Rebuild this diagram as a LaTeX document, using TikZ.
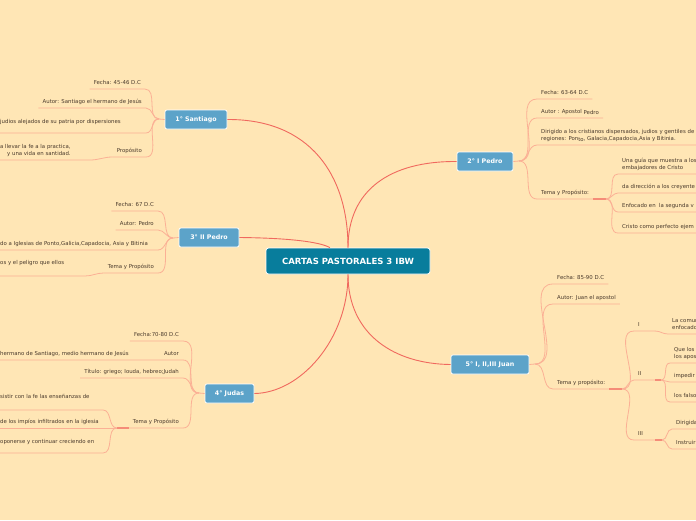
\documentclass[tikz,border=0pt]{standalone}
\usepackage{fontspec}
\setmainfont{DejaVu Sans}
\usetikzlibrary{calc}
\definecolor{bg}{HTML}{FFE6B5}
\definecolor{central}{HTML}{087D9C}
\definecolor{subblue}{HTML}{5CA3C9}
\definecolor{mainline}{HTML}{F0695E}
\definecolor{leafline}{HTML}{FBB095}
\definecolor{hubline}{HTML}{F58C78}
\definecolor{txt}{HTML}{4A3A2C}
\tikzset{
 rootbox/.style={draw=white, line width=0.8pt, fill=central, rounded corners=2.5pt, text=white, font=\bfseries\fontsize{8.5}{10}\selectfont, minimum width=164pt, minimum height=26pt, inner sep=0pt},
 topicbox/.style={draw=white, line width=0.7pt, fill=subblue, rounded corners=2pt, text=white, font=\bfseries\fontsize{6.3}{7.5}\selectfont, minimum height=19pt, inner sep=0pt},
 leaf/.style={font=\fontsize{5.4}{7}\selectfont, text=txt, inner xsep=4pt, inner ysep=3pt, text depth=1pt},
 lleaf/.style={leaf, anchor=south east, align=right},
 lclip/.style={leaf, anchor=south west, align=left},
 rleaf/.style={leaf, anchor=south west, align=left},
 mainconn/.style={draw=mainline, line width=0.9pt},
 leafconn/.style={draw=leafline, line width=0.8pt},
 hubconn/.style={draw=hubline, line width=1.4pt},
}
\begin{document}
\begin{tikzpicture}[x=1pt,y=-1pt]
\useasboundingbox (0,0) rectangle (696,520);
\fill[bg] (0,0) rectangle (696,520);
\coordinate (edge) at (700,0);

% root and topics
\node[rootbox] (c) at (348,261) {CARTAS PASTORALES 3 IBW};
\node[topicbox, minimum width=62pt] (s) at (196,119.5) {1° Santiago};
\node[topicbox, minimum width=60pt] (p3) at (209,237.5) {3° II Pedro};
\node[topicbox, minimum width=49pt] (j) at (229.5,393.5) {4° Judas};
\node[topicbox, minimum width=56pt] (p1) at (485,161.5) {2° I Pedro};
\node[topicbox, minimum width=78pt] (jn) at (490,364.5) {5° I, II,III Juan};

% main connectors
\draw[mainconn] (c.north) .. controls (348,175) and (310,119) .. (s.east);
\draw[mainconn] (c.north) .. controls (348,190) and (390,161) .. (p1.west);
\draw[mainconn] (p3.east) .. controls (290,238) and (320,242) .. ($(c.north west)!0.39!(c.north east)$);
\draw[mainconn] (c.south) .. controls (348,340) and (300,393) .. (j.east);
\draw[mainconn] (c.south) .. controls (348,335) and (395,364) .. (jn.west);

% ---- 1 Santiago
\coordinate (sh) at (159,119);
\node[lleaf] (s1) at (145,89) {Fecha: 45-46 D.C};
\node[lleaf] (s2) at (146,108) {Autor: Santiago el hermano de Jesús};
\node[lclip, inner ysep=8pt] (s3) at (-4,133) {judios alejados de su patria por dispersiones};
\coordinate (s3e) at (146,133);
\node[lleaf] (s4) at (146,157) {Propósito};
\node[lclip] (s4a) at (-4,160) {a llevar la fe a la practica,\\\hspace*{7pt}y una vida en santidad.};
\coordinate (s4ae) at (90,160);
\draw[leafconn] (s.west) -- (sh);
\draw[leafconn] (sh) to[out=180,in=0] (s1.south east) -- (s1.south west);
\draw[leafconn] (sh) to[out=180,in=0] (s2.south east) -- (s2.south west);
\draw[leafconn] (sh) to[out=180,in=0] (s3e) -- (s3.south west);
\draw[leafconn] (sh) to[out=180,in=0] (s4.south east) -- (s4.south west);
\draw[leafconn] (s4.south west) to[out=180,in=0] (s4ae) -- (s4a.south west);

% ---- 3 II Pedro
\coordinate (p3h) at (173,238);
\node[lleaf] (t1) at (158,211) {Fecha: 67 D.C};
\node[lleaf] (t2) at (158,230) {Autor: Pedro};
\node[lclip] (t3) at (-4,250) {do a Iglesias de Ponto,Galicia,Capadocia, Asia y Bitinia};
\coordinate (t3e) at (158,250);
\node[lleaf] (t4) at (158,273) {Tema y Propósito};
\node[lclip, inner ysep=10pt] (t4a) at (-4,276) {os y el peligro que ellos};
\coordinate (t4ae) at (85,276);
\draw[leafconn] (p3.west) -- (p3h);
\draw[leafconn] (p3h) to[out=180,in=0] (t1.south east) -- (t1.south west);
\draw[leafconn] (p3h) to[out=180,in=0] (t2.south east) -- (t2.south west);
\draw[leafconn] (p3h) to[out=180,in=0] (t3e) -- (t3.south west);
\draw[leafconn] (p3h) to[out=180,in=0] (t4.south east) -- (t4.south west);
\draw[leafconn] (t4.south west) to[out=180,in=0] (t4ae) -- (t4a.south west);

% ---- 4 Judas
\coordinate (jh) at (199,393);
\node[lleaf] (u1) at (183,341) {Fecha:70-80 D.C};
\node[lleaf] (u2) at (183,360) {Autor};
\node[lclip] (u2a) at (-4,360) {hermano de Santiago, medio hermano de Jesús};
\node[lleaf] (u3) at (183,378) {Título: griego; Iouda, hebreo;Judah};
\node[lleaf] (u4) at (183,428) {Tema y Propósito};
\coordinate (u4h) at (117,428);
\node[lclip, inner ysep=10pt] (u4a) at (-4,410) {sistir con la fe las enseñanzas de};
\coordinate (u4ae) at (103,410);
\node[lclip] (u4b) at (-4,428) {de los impíos infiltrados en la iglesia};
\node[lclip, inner ysep=8pt] (u4c) at (-4,453) {oponerse y continuar creciendo en};
\coordinate (u4ce) at (103,453);
\draw[leafconn] (j.west) -- (jh);
\draw[leafconn] (jh) to[out=180,in=0] (u1.south east) -- (u1.south west);
\draw[leafconn] (jh) to[out=180,in=0] (u2.south east) -- (u2.south west) -- (u2a.south west);
\draw[leafconn] (jh) to[out=180,in=0] (u3.south east) -- (u3.south west);
\draw[leafconn] (jh) to[out=180,in=0] (u4.south east) -- (u4.south west);
\draw[hubconn] (u4.south west) -- (u4h);
\draw[leafconn] (u4h) to[out=180,in=0] (u4ae) -- (u4a.south west);
\draw[leafconn] (u4h) -- (u4b.south west);
\draw[leafconn] (u4h) to[out=180,in=0] (u4ce) -- (u4c.south west);

% ---- 2 I Pedro
\coordinate (p1h) at (519,161);
\node[rleaf] (v1) at (537,99) {Fecha: 63-64 D.C};
\node[rleaf] (v2) at (537,118) {Autor : Apostol\raisebox{-1pt}{ Pedro}};
\node[rleaf] (v3) at (537,145) {Dirigido a los cristianos dispersados, judios y gentiles de\\regiones: Pon\raisebox{-1pt}{to}, Galacia,Capadocia,Asia y Bitinia.};
\node[rleaf] (v4) at (537,199) {Tema y Propósito:};
\coordinate (v4h) at (606,199);
\node[rleaf] (v4a) at (618,174) {Una guía que muestra a los\\embajadores de Cristo};
\node[rleaf] (v4b) at (618,193) {da dirección a los creyente};
\node[rleaf] (v4c) at (618,212) {Enfocado en\ \ la segunda v};
\node[rleaf] (v4d) at (618,233) {Cristo como perfecto ejem};
\draw[leafconn] (p1.east) -- (p1h);
\draw[leafconn] (p1h) to[out=0,in=180] (v1.south west) -- (v1.south east);
\draw[leafconn] (p1h) to[out=0,in=180] (v2.south west) -- (v2.south east);
\draw[leafconn] (p1h) to[out=0,in=180] (v3.south west) -- (v3.south west -| edge);
\draw[leafconn] (p1h) to[out=0,in=180] (v4.south west) -- (v4.south east);
\draw[hubconn] (v4.south east) -- (v4h);
\foreach \n in {v4a,v4b,v4c,v4d}
  \draw[leafconn] (v4h) to[out=0,in=180] (\n.south west) -- (\n.south west -| edge);

% ---- 5 Juan
\coordinate (jnh) at (535,364);
\node[rleaf] (w1) at (553,284) {Fecha: 85-90 D.C};
\node[rleaf] (w2) at (553,304) {Autor: Juan el apostol};
\node[rleaf] (w3) at (553,389) {Tema y propósito:};
\coordinate (w3h) at (622,389);
\node[rleaf] (w3a) at (634,331) {I};
\coordinate (w3ae) at (655,331);
\node[rleaf] (w3b) at (634,380) {II};
\coordinate (w3be) at (655,380);
\node[rleaf] (w3c) at (634,440) {III};
\coordinate (w3ce) at (655,440);
\node[rleaf] (w3a1) at (668,334) {La comun\\enfocado};
\coordinate (w3bh) at (661,380);
\node[rleaf] (w3b1) at (670,363) {Que los\\los apos};
\node[rleaf] (w3b2) at (670,382) {impedir};
\node[rleaf] (w3b3) at (670,402) {los falso};
\coordinate (w3ch) at (662,440);
\node[rleaf] (w3c1) at (672,429) {Dirigida};
\node[rleaf] (w3c2) at (672,449) {Instruir};
\draw[leafconn] (jn.east) -- (jnh);
\draw[leafconn] (jnh) to[out=0,in=180] (w1.south west) -- (w1.south east);
\draw[leafconn] (jnh) to[out=0,in=180] (w2.south west) -- (w2.south east);
\draw[leafconn] (jnh) to[out=0,in=180] (w3.south west) -- (w3.south east);
\draw[hubconn] (w3.south east) -- (w3h);
\draw[leafconn] (w3h) to[out=0,in=180] (w3a.south west) -- (w3ae);
\draw[leafconn] (w3h) to[out=0,in=180] (w3b.south west) -- (w3be);
\draw[leafconn] (w3h) to[out=0,in=180] (w3c.south west) -- (w3ce);
\draw[leafconn] (w3ae) to[out=0,in=180] (w3a1.south west) -- (w3a1.south west -| edge);
\draw[hubconn] (w3be) -- (w3bh);
\foreach \n in {w3b1,w3b2,w3b3}
  \draw[leafconn] (w3bh) to[out=0,in=180] (\n.south west) -- (\n.south west -| edge);
\draw[hubconn] (w3ce) -- (w3ch);
\foreach \n in {w3c1,w3c2}
  \draw[leafconn] (w3ch) to[out=0,in=180] (\n.south west) -- (\n.south west -| edge);
\end{tikzpicture}
\end{document}
